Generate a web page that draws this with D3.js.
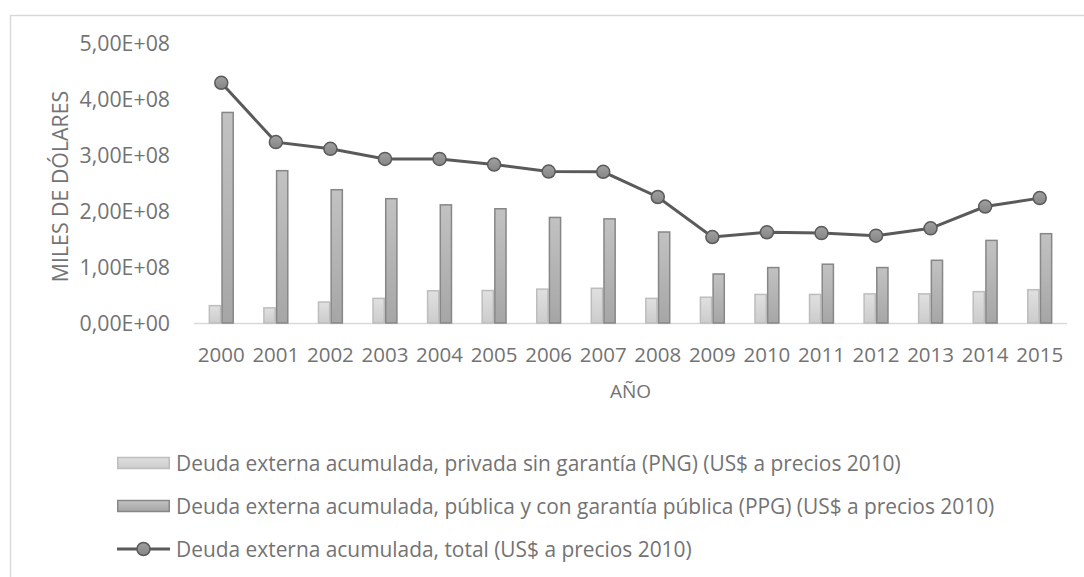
<!DOCTYPE html>
<html>
<head>
<meta charset="utf-8">
<script src="https://d3js.org/d3.v7.min.js"></script>
<style>
    body { margin: 0; background: #fff; }
    text { font-family: 'Open Sans', sans-serif; fill: #737373; }
</style>
</head>
<body>
<script>
let years = ['2000', '2001', '2002', '2003', '2004', '2005', '2006', '2007',
    '2008', '2009', '2010', '2011', '2012', '2013', '2014', '2015']
let png = [3.1e7, 2.7e7, 3.75e7, 4.4e7, 5.75e7, 5.8e7, 6.05e7, 6.2e7,
    4.4e7, 4.6e7, 5.1e7, 5.1e7, 5.2e7, 5.2e7, 5.6e7, 5.95e7]
let ppg = [3.76e8, 2.72e8, 2.38e8, 2.22e8, 2.11e8, 2.04e8, 1.885e8, 1.86e8,
    1.625e8, 0.875e8, 0.99e8, 1.05e8, 0.99e8, 1.12e8, 1.475e8, 1.595e8]
let total = [4.29e8, 3.23e8, 3.11e8, 2.93e8, 2.93e8, 2.83e8, 2.705e8, 2.70e8,
    2.25e8, 1.535e8, 1.62e8, 1.605e8, 1.56e8, 1.69e8, 2.08e8, 2.23e8]
let yTicks = [0, 1e8, 2e8, 3e8, 4e8, 5e8]
let legendLabels = [
    'Deuda externa acumulada, privada sin garantía (PNG) (US$ a precios 2010)',
    'Deuda externa acumulada, pública y con garantía pública (PPG) (US$ a precios 2010)',
    'Deuda externa acumulada, total (US$ a precios 2010)'
]

let width = 1084
let height = 577
let margin = { top: 43, bottom: 254, left: 194, right: 17 }

let svg = d3.select('body')
    .append('svg')
        .attr('width', width)
        .attr('height', height)

// gradients for the bars
let defs = svg.append('defs')
let grads = [['gLight', '#e0e0e0', '#cccccc'], ['gDark', '#c2c2c2', '#a6a6a6'], ['gDot', '#a0a0a0', '#858585']]
grads.forEach(function(g){
    let lg = defs.append('linearGradient')
        .attr('id', g[0])
        .attr('x1', 0).attr('y1', 0).attr('x2', 0).attr('y2', 1)
    lg.append('stop').attr('offset', '0%').attr('stop-color', g[1])
    lg.append('stop').attr('offset', '100%').attr('stop-color', g[2])
})

svg.append('rect')
    .attr('x', 10.5)
    .attr('y', 15.5)
    .attr('width', 1090)
    .attr('height', 600)
    .attr('fill', 'none')
    .attr('stroke', '#d9d9d9')
    .attr('stroke-width', 1.5)

let x = d3.scaleBand()
    .domain(years)
    .range([margin.left, width - margin.right])

let y = d3.scaleLinear()
    .domain([0, 5e8])
    .range([height - margin.bottom, margin.top])

let barW = x.bandwidth() * 0.2326
let x1 = d3.scaleBand()
    .domain(['png', 'ppg'])
    .range([x.bandwidth() / 2 - barW, x.bandwidth() / 2 + barW])

function sci(v){
    let s = d3.format('.2e')(v)
    let parts = s.split('e')
    let exp = +parts[1]
    let sign = exp < 0 ? '-' : '+'
    return parts[0].replace('.', ',') + 'E' + sign + d3.format('02d')(Math.abs(exp))
}

// y tick labels
svg.append('g')
    .selectAll('text')
    .data(yTicks)
    .enter()
    .append('text')
        .attr('x', 170)
        .attr('y', d => y(d))
        .attr('dy', '0.36em')
        .attr('text-anchor', 'end')
        .attr('font-size', '21.3px')
        .text(d => sci(d))

// x axis line
svg.append('line')
    .attr('x1', x.range()[0])
    .attr('x2', x.range()[1])
    .attr('y1', y(0) + 0.5)
    .attr('y2', y(0) + 0.5)
    .attr('stroke', '#d9d9d9')
    .attr('stroke-width', 1.5)

// x labels
svg.append('g')
    .selectAll('text')
    .data(years)
    .enter()
    .append('text')
        .attr('x', d => x(d) + x.bandwidth() / 2)
        .attr('y', 362)
        .attr('text-anchor', 'middle')
        .attr('font-size', '20.5px')
        .text(d => d)

// bars
let barData = years.map((d, i) => ({ year: d, png: png[i], ppg: ppg[i] }))
let groups = svg.append('g')
    .selectAll('g')
    .data(barData)
    .enter()
    .append('g')
        .attr('transform', d => 'translate(' + x(d.year) + ',0)')

groups.selectAll('rect')
    .data(d => ['png', 'ppg'].map(k => ({ key: k, value: d[k] })))
    .enter()
    .append('rect')
        .attr('x', d => x1(d.key) + 0.75)
        .attr('y', d => y(d.value))
        .attr('width', x1.bandwidth() - 1.5)
        .attr('height', d => y(0) - y(d.value))
        .attr('fill', d => d.key === 'png' ? 'url(#gLight)' : 'url(#gDark)')
        .attr('stroke', d => d.key === 'png' ? '#bdbdbd' : '#878787')
        .attr('stroke-width', 1.5)

// total line
let line = d3.line()
    .x((d, i) => x(years[i]) + x.bandwidth() / 2)
    .y(d => y(d))

svg.append('path')
    .datum(total)
    .attr('d', line)
    .attr('fill', 'none')
    .attr('stroke', '#5a5a5a')
    .attr('stroke-width', 3)

svg.append('g')
    .selectAll('circle')
    .data(total)
    .enter()
    .append('circle')
        .attr('cx', (d, i) => x(years[i]) + x.bandwidth() / 2)
        .attr('cy', d => y(d))
        .attr('r', 6.5)
        .attr('fill', 'url(#gDot)')
        .attr('stroke', '#5a5a5a')
        .attr('stroke-width', 1.5)

// axis titles
svg.append('text')
    .attr('transform', 'translate(68,' + ((y(0) + y(5e8)) / 2 + 3.5) + ') rotate(-90)')
    .attr('text-anchor', 'middle')
    .attr('font-size', '21.3px')
    .text('MILES DE DÓLARES')

svg.append('text')
    .attr('x', (x.range()[0] + x.range()[1]) / 2)
    .attr('y', 398)
    .attr('text-anchor', 'middle')
    .attr('font-size', '19px')
    .text('AÑO')

// legend
let legend = svg.append('g')
    .selectAll('g')
    .data(legendLabels)
    .enter()
    .append('g')
        .attr('transform', (d, i) => 'translate(117,' + (463 + i * 43) + ')')

legend.each(function(d, i){
    let g = d3.select(this)
    if (i < 2) {
        g.append('rect')
            .attr('x', 0.75)
            .attr('y', -5.5)
            .attr('width', 51.5)
            .attr('height', 11)
            .attr('fill', i === 0 ? 'url(#gLight)' : 'url(#gDark)')
            .attr('stroke', i === 0 ? '#bdbdbd' : '#878787')
            .attr('stroke-width', 1.5)
    } else {
        g.append('line')
            .attr('x1', 0)
            .attr('x2', 53)
            .attr('y1', 0)
            .attr('y2', 0)
            .attr('stroke', '#5a5a5a')
            .attr('stroke-width', 3)
        g.append('circle')
            .attr('cx', 26.5)
            .attr('cy', 0)
            .attr('r', 6.5)
            .attr('fill', 'url(#gDot)')
            .attr('stroke', '#5a5a5a')
            .attr('stroke-width', 1.5)
    }
    g.append('text')
        .attr('x', 59)
        .attr('y', 0)
        .attr('dy', '0.36em')
        .attr('font-size', '20.9px')
        .text(d)
})
</script>
</body>
</html>
